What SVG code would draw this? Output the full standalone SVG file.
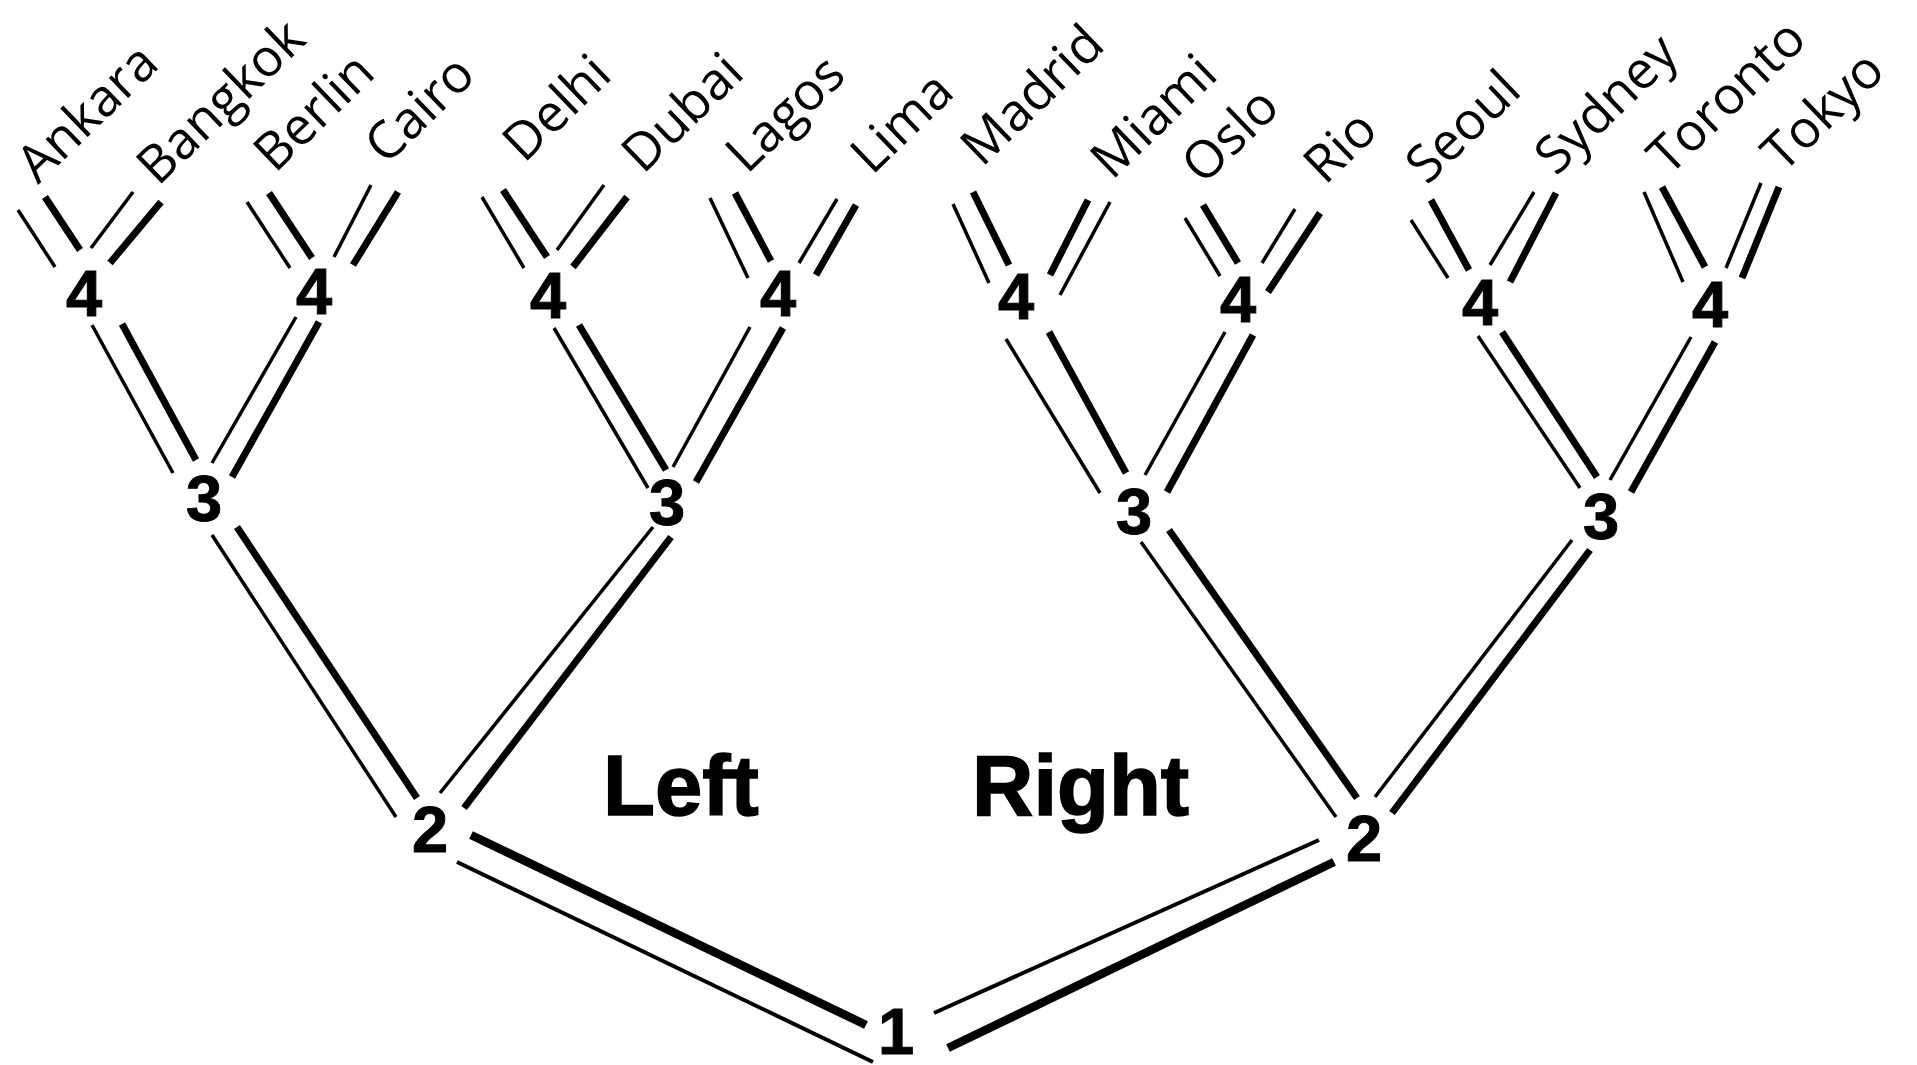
<svg xmlns="http://www.w3.org/2000/svg" width="1917" height="1065" viewBox="0 0 1917 1065">
<style>
.bg{fill:#fff}
.num{font-family:"Liberation Sans",Arial,sans-serif;font-weight:bold;font-size:65px;fill:#000;text-anchor:middle;stroke:#000;stroke-width:1}
.city{font-family:"Open Sans","Noto Sans",sans-serif;font-size:52px;fill:#000}
.side{font-family:"Liberation Sans",Arial,sans-serif;font-weight:bold;font-size:85px;fill:#000;stroke:#000;stroke-width:1.5}
.t{stroke:#000;stroke-width:3.5;fill:none}
.k{stroke:#000;stroke-width:7;fill:none}
.t2{stroke:#000;stroke-width:4;fill:none}
.k2{stroke:#000;stroke-width:8.5;fill:none}
</style>
<rect class="bg" x="0" y="0" width="1917" height="1065"/>
<g id="connectors">
<line class="t" x1="18" y1="210" x2="55" y2="267"/><line class="k" x1="45" y1="197" x2="80" y2="250"/>
<line class="t" x1="133" y1="192" x2="91" y2="248"/><line class="k" x1="161" y1="202" x2="110" y2="263"/>
<line class="t" x1="247" y1="202" x2="290" y2="268"/><line class="k" x1="269" y1="193" x2="312" y2="258"/>
<line class="t" x1="371" y1="185" x2="334" y2="257"/><line class="k" x1="398" y1="192" x2="353" y2="265"/>
<line class="t" x1="482" y1="197" x2="524" y2="268"/><line class="k" x1="503" y1="190" x2="547" y2="257"/>
<line class="t" x1="604" y1="185" x2="557" y2="250"/><line class="k" x1="627" y1="197" x2="573" y2="267"/>
<line class="t" x1="710" y1="198" x2="748" y2="278"/><line class="k" x1="735" y1="193" x2="771" y2="261"/>
<line class="t" x1="837" y1="199" x2="799" y2="263"/><line class="k" x1="856" y1="205" x2="816" y2="275"/>
<line class="t" x1="953" y1="204" x2="989" y2="283"/><line class="k" x1="973" y1="192" x2="1009" y2="265"/>
<line class="k" x1="1088" y1="200" x2="1050" y2="275"/><line class="t" x1="1110" y1="202" x2="1060" y2="295"/>
<line class="t" x1="1185" y1="218" x2="1220" y2="276"/><line class="k" x1="1203" y1="205" x2="1238" y2="263"/>
<line class="t" x1="1295" y1="209" x2="1262" y2="263"/><line class="k" x1="1320" y1="213" x2="1268" y2="292"/>
<line class="t" x1="1411" y1="220" x2="1448" y2="278"/><line class="k" x1="1431" y1="200" x2="1469" y2="270"/>
<line class="t" x1="1534" y1="192" x2="1490" y2="265"/><line class="k" x1="1556" y1="193" x2="1510" y2="282"/>
<line class="t" x1="1644" y1="192" x2="1683" y2="282"/><line class="k" x1="1662" y1="187" x2="1705" y2="267"/>
<line class="t" x1="1761" y1="183" x2="1726" y2="268"/><line class="k" x1="1779" y1="187" x2="1742" y2="278"/>

<line class="t" x1="92" y1="325" x2="173" y2="473"/><line class="k" x1="122" y1="324" x2="196" y2="460"/>
<line class="t" x1="296" y1="317" x2="212" y2="463"/><line class="k" x1="319" y1="322" x2="232" y2="477"/>
<line class="t" x1="554" y1="328" x2="648" y2="488"/><line class="k" x1="579" y1="325" x2="666" y2="470"/>
<line class="t" x1="750" y1="327" x2="673" y2="467"/><line class="k" x1="783" y1="328" x2="696" y2="482"/>
<line class="t" x1="1006" y1="339" x2="1100" y2="493"/><line class="k" x1="1049" y1="332" x2="1126" y2="473"/>
<line class="t" x1="1225" y1="332" x2="1145" y2="475"/><line class="k" x1="1253" y1="335" x2="1167" y2="492"/>
<line class="t" x1="1478" y1="336" x2="1580" y2="488"/><line class="k" x1="1502" y1="332" x2="1597" y2="477"/>
<line class="t" x1="1691" y1="337" x2="1610" y2="480"/><line class="k" x1="1715" y1="342" x2="1631" y2="492"/>

<line class="t" x1="212" y1="535" x2="396" y2="817"/><line class="k" x1="237" y1="527" x2="417" y2="798"/>
<line class="t" x1="653" y1="527" x2="440" y2="793"/><line class="k" x1="671" y1="537" x2="464" y2="808"/>
<line class="t" x1="1141" y1="542" x2="1336" y2="817"/><line class="k" x1="1169" y1="530" x2="1357" y2="798"/>
<line class="t" x1="1572" y1="540" x2="1375" y2="797"/><line class="k" x1="1590" y1="550" x2="1392" y2="813"/>

<line class="k2" x1="471" y1="835" x2="866" y2="1025"/><line class="t2" x1="457" y1="862" x2="873" y2="1062"/>
<line class="t2" x1="934" y1="1013" x2="1319" y2="840"/><line class="k2" x1="948" y1="1048" x2="1334" y2="862"/>
</g>
<g id="leaf-ankara"><text class="city" transform="translate(38,185) rotate(-44)">Ankara</text></g>
<g id="leaf-bangkok"><text class="city" transform="translate(158,187) rotate(-44)">Bangkok</text></g>
<g id="leaf-berlin"><text class="city" transform="translate(275,174) rotate(-44)">Berlin</text></g>
<g id="leaf-cairo"><text class="city" transform="translate(386,166) rotate(-44)">Cairo</text></g>
<g id="leaf-delhi"><text class="city" transform="translate(524,164) rotate(-44)">Delhi</text></g>
<g id="leaf-dubai"><text class="city" transform="translate(643,175) rotate(-44)">Dubai</text></g>
<g id="leaf-lagos"><text class="city" transform="translate(747,175) rotate(-44)">Lagos</text></g>
<g id="leaf-lima"><text class="city" transform="translate(872,176) rotate(-44)">Lima</text></g>
<g id="leaf-madrid"><text class="city" transform="translate(982,168) rotate(-44)">Madrid</text></g>
<g id="leaf-miami"><text class="city" transform="translate(1112,181) rotate(-44)">Miami</text></g>
<g id="leaf-oslo"><text class="city" transform="translate(1203,186) rotate(-44)">Oslo</text></g>
<g id="leaf-rio"><text class="city" transform="translate(1325,186) rotate(-44)">Rio</text></g>
<g id="leaf-seoul"><text class="city" transform="translate(1427,186) rotate(-44)">Seoul</text></g>
<g id="leaf-sydney"><text class="city" transform="translate(1556,177) rotate(-44)">Sydney</text></g>
<g id="leaf-toronto"><text class="city" transform="translate(1669,177) rotate(-44)">Toronto</text></g>
<g id="leaf-tokyo"><text class="city" transform="translate(1783,174) rotate(-44)">Tokyo</text></g>

<g id="n4a"><text class="num" x="84" y="316">4</text></g>
<g id="n4b"><text class="num" x="314" y="314">4</text></g>
<g id="n4c"><text class="num" x="548" y="318">4</text></g>
<g id="n4d"><text class="num" x="778" y="316">4</text></g>
<g id="n4e"><text class="num" x="1016" y="319">4</text></g>
<g id="n4f"><text class="num" x="1238" y="322">4</text></g>
<g id="n4g"><text class="num" x="1480" y="325">4</text></g>
<g id="n4h"><text class="num" x="1710" y="327">4</text></g>
<g id="n3a"><text class="num" x="204" y="521">3</text></g>
<g id="n3b"><text class="num" x="667" y="525">3</text></g>
<g id="n3c"><text class="num" x="1134" y="534">3</text></g>
<g id="n3d"><text class="num" x="1601" y="539">3</text></g>
<g id="n2a"><text class="num" x="430" y="852">2</text></g>
<g id="n2b"><text class="num" x="1364" y="861">2</text></g>
<g id="n1"><text class="num" x="896" y="1054">1</text></g>
<g id="label-left"><text class="side" x="603" y="815">Left</text></g>
<g id="label-right"><text class="side" x="972" y="815">Right</text></g>
</svg>
